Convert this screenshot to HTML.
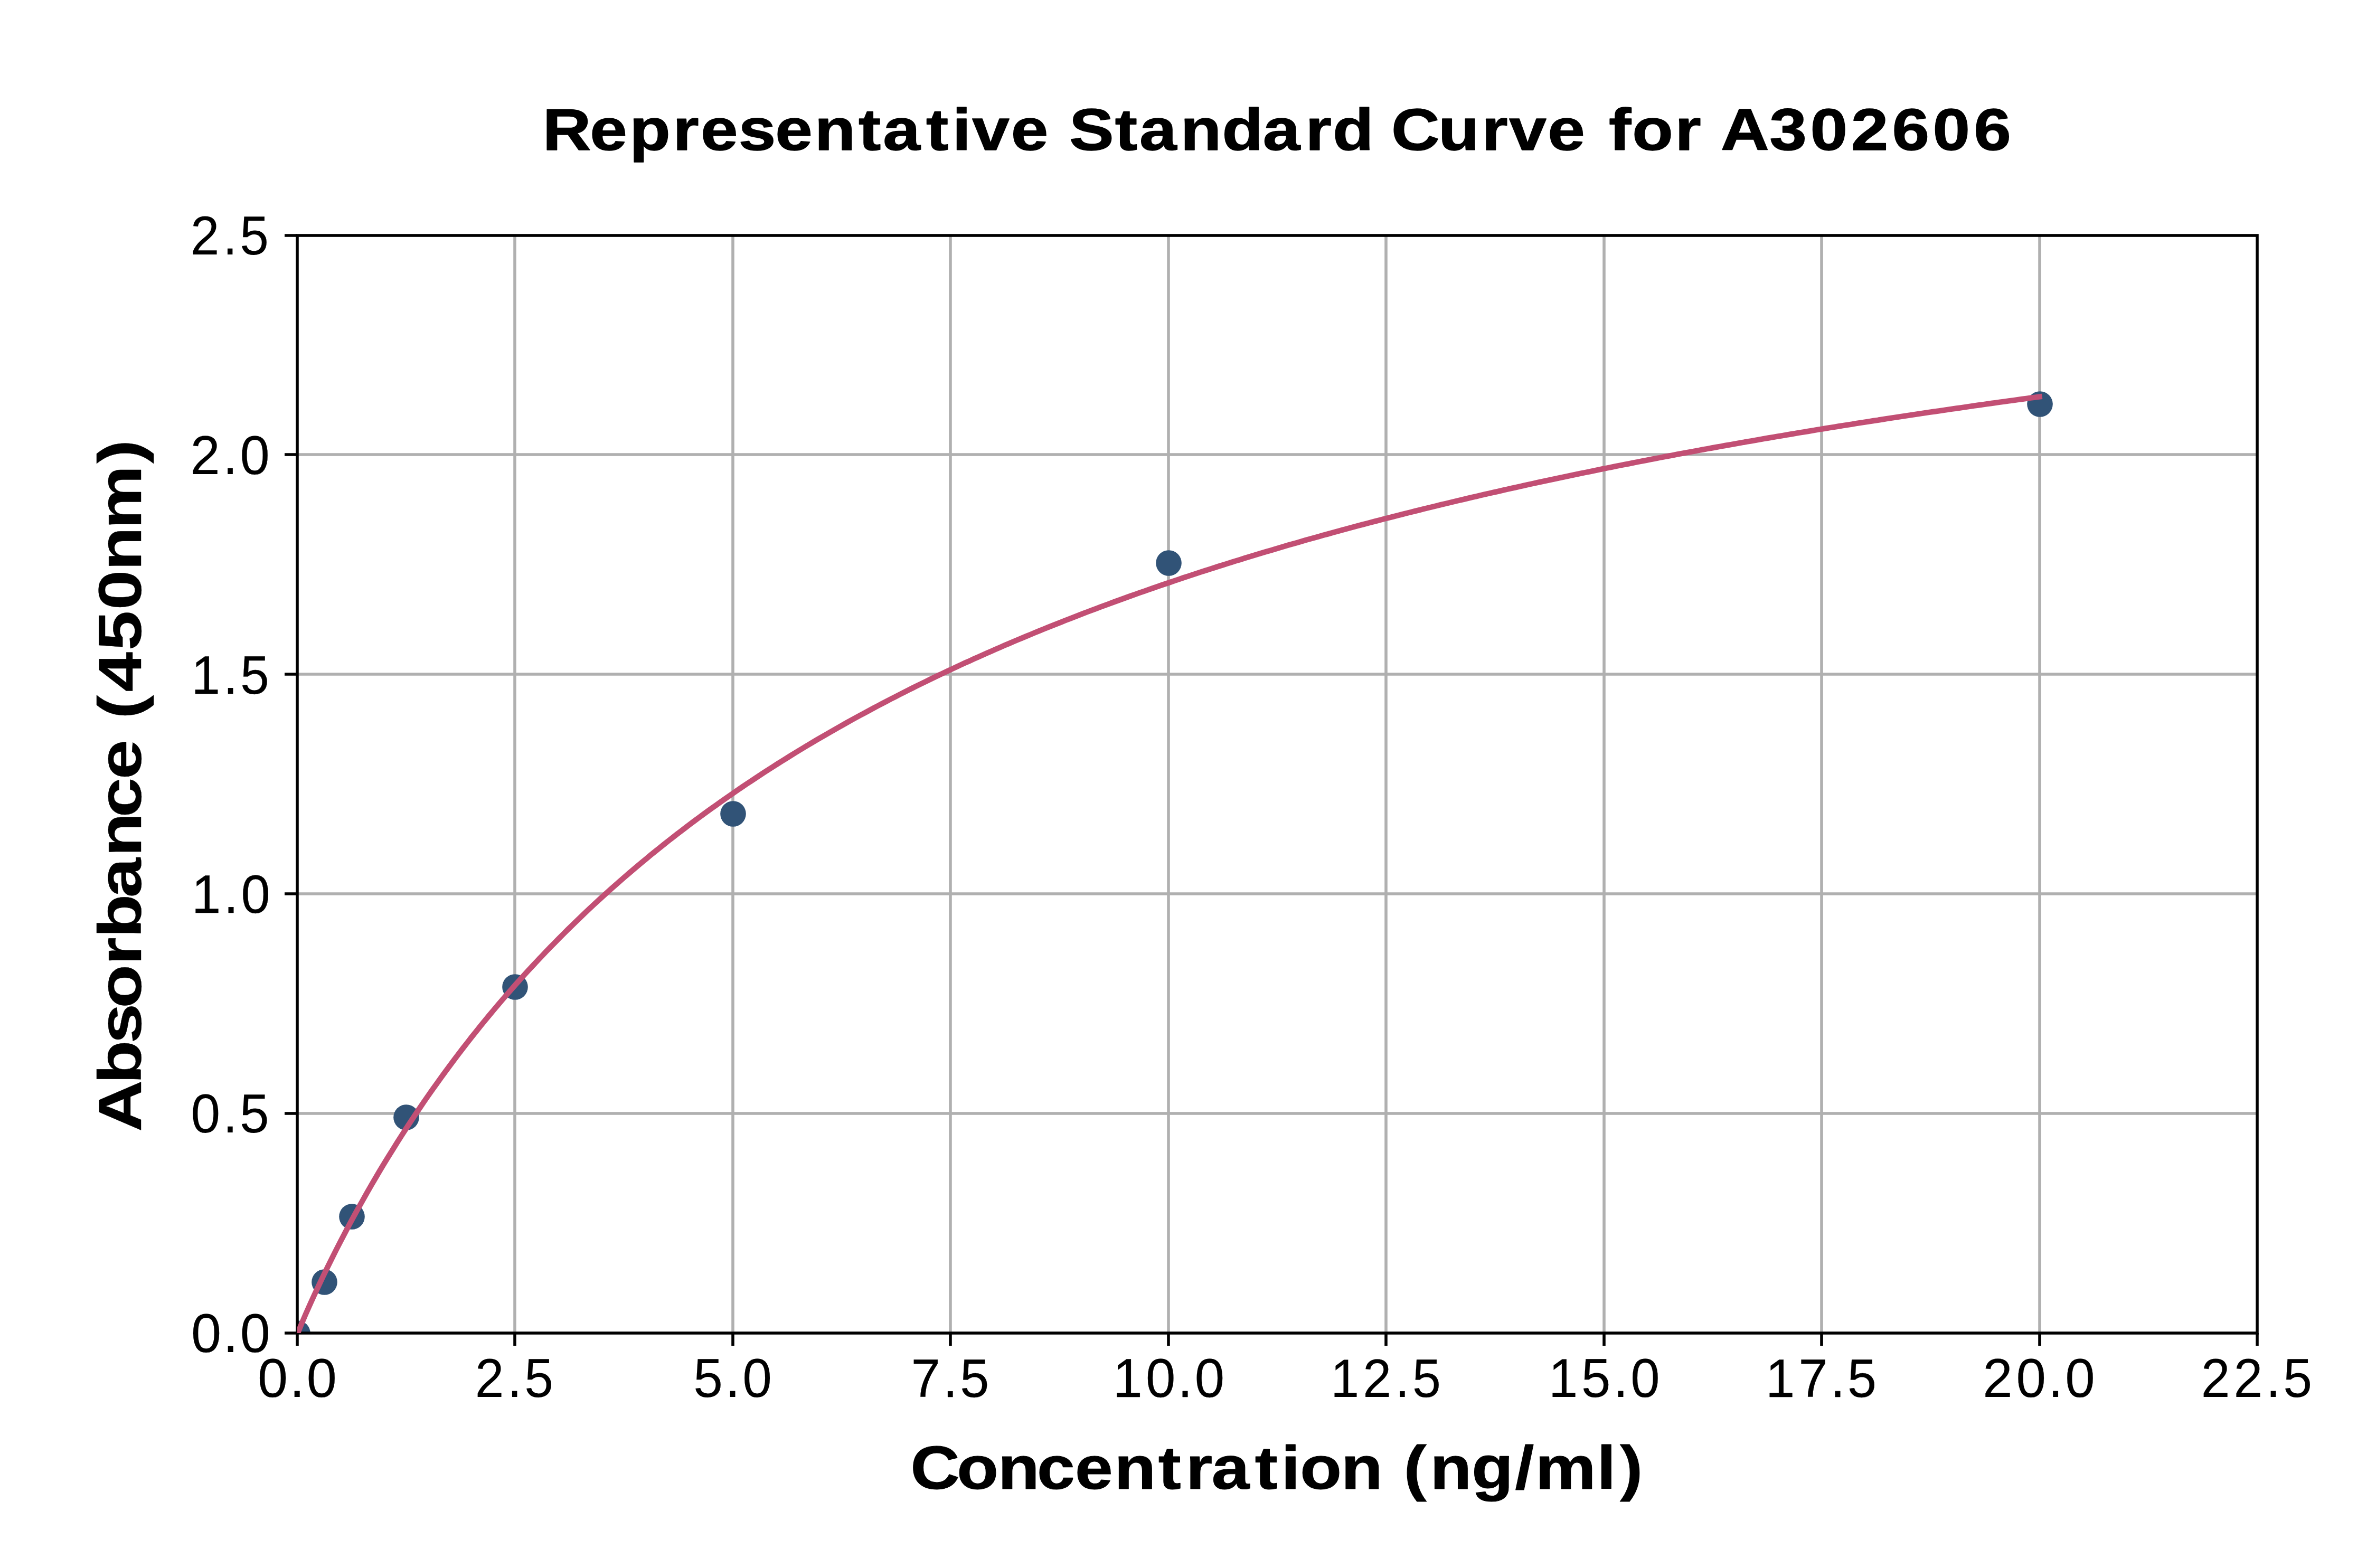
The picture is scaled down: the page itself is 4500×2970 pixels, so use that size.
<!DOCTYPE html>
<html lang="en"><head><meta charset="utf-8"><title>Representative Standard Curve for A302606</title>
<style>html,body{margin:0;padding:0;background:#fff;overflow:hidden;width:4500px;height:2970px}svg{display:block}text{font-family:"Liberation Sans",sans-serif;fill:#000}</style></head>
<body>
<svg width="4500" height="2970" viewBox="0 0 4500 2970">
<rect x="0" y="0" width="4500" height="2970" fill="#ffffff"/>
<defs><clipPath id="ax"><rect x="563" y="446" width="3712" height="2079"/></clipPath></defs>
<path d="M975.0 446.0V2525.0M1388.0 446.0V2525.0M1800.0 446.0V2525.0M2213.0 446.0V2525.0M2625.0 446.0V2525.0M3038.0 446.0V2525.0M3450.0 446.0V2525.0M3863.0 446.0V2525.0M563.0 861.0H4275.0M563.0 1277.0H4275.0M563.0 1693.0H4275.0M563.0 2109.0H4275.0" stroke="#b0b0b0" stroke-width="5.556" fill="none"/>
<g clip-path="url(#ax)" fill="#315377"><circle cx="563.5" cy="2525.5" r="24.31"/><circle cx="614.5" cy="2428.5" r="24.31"/><circle cx="666.5" cy="2304.5" r="24.31"/><circle cx="769.5" cy="2116.5" r="24.31"/><circle cx="975.5" cy="1869.5" r="24.31"/><circle cx="1388.5" cy="1541.5" r="24.31"/><circle cx="2213.5" cy="1066.5" r="24.31"/><circle cx="3863.5" cy="765.5" r="24.31"/></g>
<rect x="563" y="446" width="3712" height="2079" fill="none" stroke="#000" stroke-width="5.556" stroke-linejoin="miter"/>
<path d="M563.0 2525.0V2549.0M975.0 2525.0V2549.0M1388.0 2525.0V2549.0M1800.0 2525.0V2549.0M2213.0 2525.0V2549.0M2625.0 2525.0V2549.0M3038.0 2525.0V2549.0M3450.0 2525.0V2549.0M3863.0 2525.0V2549.0M4275.0 2525.0V2549.0M563.0 446.0H539.0M563.0 861.0H539.0M563.0 1277.0H539.0M563.0 1693.0H539.0M563.0 2109.0H539.0M563.0 2525.0H539.0" stroke="#000" stroke-width="5.556" fill="none"/>
<g clip-path="url(#ax)"><polyline points="562.5,2528.4 570.8,2508.2 579.0,2489.0 587.3,2470.4 595.6,2452.2 603.9,2434.5 612.1,2417.1 620.4,2400.1 628.7,2383.4 636.9,2367.0 645.2,2350.8 653.5,2335.0 661.7,2319.4 670.0,2304.1 678.3,2289.0 686.6,2274.2 694.8,2259.6 703.1,2245.2 711.4,2231.0 719.6,2217.0 727.9,2203.3 736.2,2189.7 744.5,2176.4 752.7,2163.2 761.0,2150.2 769.3,2137.4 777.5,2124.8 785.8,2112.3 794.1,2100.0 802.3,2087.9 810.6,2075.9 818.9,2064.1 827.2,2052.4 835.4,2040.9 843.7,2029.6 852.0,2018.4 860.2,2007.3 868.5,1996.3 876.8,1985.5 885.1,1974.9 893.3,1964.3 901.6,1953.9 909.9,1943.6 918.1,1933.5 926.4,1923.4 934.7,1913.5 943.0,1903.7 951.2,1894.0 959.5,1884.4 967.8,1874.9 976.0,1865.5 984.3,1856.3 992.6,1847.1 1000.8,1838.1 1009.1,1829.1 1017.4,1820.2 1025.7,1811.5 1033.9,1802.8 1042.2,1794.2 1050.5,1785.8 1058.7,1777.4 1067.0,1769.1 1075.3,1760.8 1083.6,1752.7 1091.8,1744.7 1100.1,1736.7 1108.4,1728.8 1116.6,1721.0 1124.9,1713.3 1133.2,1705.7 1141.4,1698.1 1149.7,1690.6 1158.0,1683.2 1166.3,1675.8 1174.5,1668.6 1182.8,1661.4 1191.1,1654.2 1199.3,1647.2 1207.6,1640.2 1215.9,1633.3 1224.2,1626.4 1232.4,1619.6 1240.7,1612.9 1249.0,1606.2 1257.2,1599.6 1265.5,1593.0 1273.8,1586.6 1282.0,1580.1 1290.3,1573.8 1298.6,1567.5 1306.9,1561.2 1315.1,1555.0 1323.4,1548.9 1331.7,1542.8 1339.9,1536.8 1348.2,1530.8 1356.5,1524.9 1364.8,1519.0 1373.0,1513.2 1381.3,1507.4 1389.6,1501.7 1397.8,1496.0 1406.1,1490.4 1414.4,1484.8 1422.7,1479.3 1430.9,1473.8 1439.2,1468.3 1447.5,1462.9 1455.7,1457.6 1464.0,1452.3 1472.3,1447.0 1480.5,1441.8 1488.8,1436.7 1497.1,1431.5 1505.4,1426.4 1513.6,1421.4 1521.9,1416.4 1530.2,1411.4 1538.4,1406.5 1546.7,1401.6 1555.0,1396.7 1563.3,1391.9 1571.5,1387.2 1579.8,1382.4 1588.1,1377.7 1596.3,1373.1 1604.6,1368.4 1612.9,1363.8 1621.1,1359.3 1629.4,1354.7 1637.7,1350.3 1646.0,1345.8 1654.2,1341.4 1662.5,1337.0 1670.8,1332.6 1679.0,1328.3 1687.3,1324.0 1695.6,1319.8 1703.9,1315.5 1712.1,1311.3 1720.4,1307.2 1728.7,1303.0 1736.9,1298.9 1745.2,1294.9 1753.5,1290.8 1761.7,1286.8 1770.0,1282.8 1778.3,1278.8 1786.6,1274.9 1794.8,1271.0 1803.1,1267.1 1811.4,1263.3 1819.6,1259.4 1827.9,1255.6 1836.2,1251.9 1844.5,1248.1 1852.7,1244.4 1861.0,1240.7 1869.3,1237.0 1877.5,1233.4 1885.8,1229.8 1894.1,1226.2 1902.3,1222.6 1910.6,1219.1 1918.9,1215.5 1927.2,1212.0 1935.4,1208.6 1943.7,1205.1 1952.0,1201.7 1960.2,1198.3 1968.5,1194.9 1976.8,1191.5 1985.1,1188.2 1993.3,1184.9 2001.6,1181.6 2009.9,1178.3 2018.1,1175.0 2026.4,1171.8 2034.7,1168.6 2043.0,1165.4 2051.2,1162.2 2059.5,1159.0 2067.8,1155.9 2076.0,1152.8 2084.3,1149.7 2092.6,1146.6 2100.8,1143.6 2109.1,1140.5 2117.4,1137.5 2125.7,1134.5 2133.9,1131.5 2142.2,1128.5 2150.5,1125.6 2158.7,1122.7 2167.0,1119.8 2175.3,1116.9 2183.6,1114.0 2191.8,1111.1 2200.1,1108.3 2208.4,1105.5 2216.6,1102.7 2224.9,1099.9 2233.2,1097.1 2241.4,1094.3 2249.7,1091.6 2258.0,1088.9 2266.3,1086.1 2274.5,1083.4 2282.8,1080.8 2291.1,1078.1 2299.3,1075.5 2307.6,1072.8 2315.9,1070.2 2324.2,1067.6 2332.4,1065.0 2340.7,1062.4 2349.0,1059.9 2357.2,1057.3 2365.5,1054.8 2373.8,1052.3 2382.0,1049.8 2390.3,1047.3 2398.6,1044.8 2406.9,1042.4 2415.1,1039.9 2423.4,1037.5 2431.7,1035.1 2439.9,1032.6 2448.2,1030.2 2456.5,1027.9 2464.8,1025.5 2473.0,1023.1 2481.3,1020.8 2489.6,1018.5 2497.8,1016.2 2506.1,1013.8 2514.4,1011.6 2522.7,1009.3 2530.9,1007.0 2539.2,1004.7 2547.5,1002.5 2555.7,1000.3 2564.0,998.0 2572.3,995.8 2580.5,993.6 2588.8,991.5 2597.1,989.3 2605.4,987.1 2613.6,985.0 2621.9,982.8 2630.2,980.7 2638.4,978.6 2646.7,976.5 2655.0,974.4 2663.3,972.3 2671.5,970.2 2679.8,968.1 2688.1,966.1 2696.3,964.0 2704.6,962.0 2712.9,960.0 2721.1,958.0 2729.4,955.9 2737.7,954.0 2746.0,952.0 2754.2,950.0 2762.5,948.0 2770.8,946.1 2779.0,944.1 2787.3,942.2 2795.6,940.3 2803.9,938.3 2812.1,936.4 2820.4,934.5 2828.7,932.6 2836.9,930.8 2845.2,928.9 2853.5,927.0 2861.7,925.2 2870.0,923.3 2878.3,921.5 2886.6,919.7 2894.8,917.8 2903.1,916.0 2911.4,914.2 2919.6,912.4 2927.9,910.7 2936.2,908.9 2944.5,907.1 2952.7,905.3 2961.0,903.6 2969.3,901.9 2977.5,900.1 2985.8,898.4 2994.1,896.7 3002.3,895.0 3010.6,893.3 3018.9,891.6 3027.2,889.9 3035.4,888.2 3043.7,886.5 3052.0,884.8 3060.2,883.2 3068.5,881.5 3076.8,879.9 3085.1,878.3 3093.3,876.6 3101.6,875.0 3109.9,873.4 3118.1,871.8 3126.4,870.2 3134.7,868.6 3143.0,867.0 3151.2,865.4 3159.5,863.9 3167.8,862.3 3176.0,860.7 3184.3,859.2 3192.6,857.6 3200.8,856.1 3209.1,854.6 3217.4,853.0 3225.7,851.5 3233.9,850.0 3242.2,848.5 3250.5,847.0 3258.7,845.5 3267.0,844.0 3275.3,842.6 3283.6,841.1 3291.8,839.6 3300.1,838.2 3308.4,836.7 3316.6,835.3 3324.9,833.8 3333.2,832.4 3341.4,830.9 3349.7,829.5 3358.0,828.1 3366.3,826.7 3374.5,825.3 3382.8,823.9 3391.1,822.5 3399.3,821.1 3407.6,819.7 3415.9,818.3 3424.2,817.0 3432.4,815.6 3440.7,814.2 3449.0,812.9 3457.2,811.5 3465.5,810.2 3473.8,808.9 3482.0,807.5 3490.3,806.2 3498.6,804.9 3506.9,803.6 3515.1,802.2 3523.4,800.9 3531.7,799.6 3539.9,798.3 3548.2,797.0 3556.5,795.8 3564.8,794.5 3573.0,793.2 3581.3,791.9 3589.6,790.7 3597.8,789.4 3606.1,788.1 3614.4,786.9 3622.7,785.7 3630.9,784.4 3639.2,783.2 3647.5,781.9 3655.7,780.7 3664.0,779.5 3672.3,778.3 3680.5,777.1 3688.8,775.9 3697.1,774.7 3705.4,773.5 3713.6,772.3 3721.9,771.1 3730.2,769.9 3738.4,768.7 3746.7,767.5 3755.0,766.4 3763.3,765.2 3771.5,764.0 3779.8,762.9 3788.1,761.7 3796.3,760.6 3804.6,759.4 3812.9,758.3 3821.1,757.1 3829.4,756.0 3837.7,754.9 3846.0,753.7 3854.2,752.6 3862.5,751.5" fill="none" stroke="#c24f74" stroke-width="10.417" stroke-linejoin="round" stroke-linecap="square"/></g>
<text transform="translate(1040.00 284.00) scale(1.1331 1)" x="-10.8 68.1 134.4 206.7 253.2 316.7 378.0 443.8 517.1 557.9 630.2 674.0 707.2 771.9 821.2 869.4 945.9 986.7 1055.4 1124.8 1192.9 1264.3 1309.6 1363.8 1407.6 1486.1 1558.8 1604.6 1669.2 1718.6 1771.3 1810.4 1881.8 1911.1 1958.4 2039.8 2108.0 2176.1 2244.8 2312.7 2381.3" y="0" font-size="112.00" stroke="#000" stroke-width="1.40" stroke-linejoin="round" font-weight="bold">Representative Standard Curve for A302606</text>
<text transform="translate(1737.50 2820.00) scale(1.1188 1)" x="-11.6 66.9 136.4 202.5 266.9 333.4 407.9 454.5 498.0 571.4 615.9 647.8 717.3 771.8 823.4 868.0 938.4 1011.7 1046.3 1150.4 1189.4" y="0" font-size="115.16" stroke="#000" stroke-width="1.11" stroke-linejoin="round" font-weight="bold">Concentration (ng/ml)</text>
<text transform="translate(267.00 2137.50) rotate(-90) scale(1.1893 1)" x="-5.4 70.9 135.4 191.6 260.3 303.6 367.6 433.0 495.4 555.9 604.0 652.2 695.3 761.1 826.0 888.6 954.6 1058.9" y="0" font-size="114.10" stroke="#000" stroke-width="0.44" stroke-linejoin="round" font-weight="bold">Absorbance (450nm)</text>
<text transform="translate(492.00 2646.00) scale(0.9950 1)" x="-4.1 56.9 89.2" y="0" font-size="103.26" stroke="#000" stroke-width="0.22" stroke-linejoin="round">0.0</text>
<text transform="translate(904.50 2646.00) scale(0.9533 1)" x="-5.1 59.2 93.2" y="0" font-size="103.24" stroke="#000" stroke-width="0.10" stroke-linejoin="round">2.5</text>
<text transform="translate(1318.00 2646.00) scale(0.9698 1)" x="-5.0 57.6 91.1" y="0" font-size="103.26" stroke="#000" stroke-width="0.11" stroke-linejoin="round">5.0</text>
<text transform="translate(1730.50 2646.00) scale(0.9724 1)" x="-5.0 57.1 90.3" y="0" font-size="101.91" stroke="#000" stroke-width="0.32" stroke-linejoin="round">7.5</text>
<text transform="translate(2116.00 2646.00) scale(0.9814 1)" x="-8.6 54.9 116.6 149.5" y="0" font-size="103.26" stroke="#000" stroke-width="0.31" stroke-linejoin="round">10.0</text>
<text transform="translate(2527.50 2646.00) scale(0.9518 1)" x="-7.5 56.6 120.8 155.0" y="0" font-size="101.85" stroke="#000" stroke-width="0.22" stroke-linejoin="round">12.5</text>
<text transform="translate(2941.00 2646.00) scale(0.9635 1)" x="-8.2 56.1 119.0 152.8" y="0" font-size="103.26" stroke="#000" stroke-width="0.22" stroke-linejoin="round">15.0</text>
<text transform="translate(3352.00 2646.00) scale(0.9689 1)" x="-7.9 56.2 118.4 151.8" y="0" font-size="101.89" stroke="#000" stroke-width="0.41" stroke-linejoin="round">17.5</text>
<text transform="translate(3761.00 2646.00) scale(0.9835 1)" x="-5.8 58.4 119.9 152.7" y="0" font-size="103.26" stroke="#000" stroke-width="0.23" stroke-linejoin="round">20.0</text>
<text transform="translate(4173.50 2646.00) scale(0.9544 1)" x="-5.1 59.7 124.0 157.9" y="0" font-size="103.24" stroke="#000" stroke-width="0.14" stroke-linejoin="round">22.5</text>
<text transform="translate(365.50 481.50) scale(0.9533 1)" x="-5.1 59.2 93.2" y="0" font-size="103.24" stroke="#000" stroke-width="0.10" stroke-linejoin="round">2.5</text>
<text transform="translate(366.00 897.50) scale(0.9792 1)" x="-5.7 57.3 90.3" y="0" font-size="103.26" stroke="#000" stroke-width="0.23" stroke-linejoin="round">2.0</text>
<text transform="translate(370.00 1313.50) scale(0.9621 1)" x="-7.8 55.1 88.7" y="0" font-size="101.89" stroke="#000" stroke-width="0.29" stroke-linejoin="round">1.5</text>
<text transform="translate(371.00 1728.50) scale(0.9760 1)" x="-8.1 54.1 87.5" y="0" font-size="101.85" stroke="#000" stroke-width="0.36" stroke-linejoin="round">1.0</text>
<text transform="translate(365.00 2144.50) scale(0.9698 1)" x="-3.5 58.7 91.8" y="0" font-size="103.26" stroke="#000" stroke-width="0.11" stroke-linejoin="round">0.5</text>
<text transform="translate(366.00 2560.50) scale(0.9950 1)" x="-4.1 56.9 89.2" y="0" font-size="103.26" stroke="#000" stroke-width="0.22" stroke-linejoin="round">0.0</text>
</svg>
</body></html>
